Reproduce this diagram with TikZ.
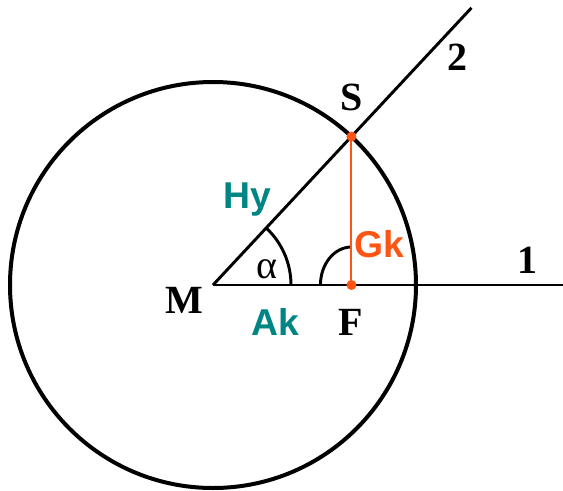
\documentclass[tikz,border=0pt]{standalone}
\usepackage{fontspec}
\setmainfont{Liberation Serif}
\setsansfont{Liberation Sans}
\usetikzlibrary{calc}
\definecolor{legteal}{RGB}{0,133,133}
\definecolor{legorange}{RGB}{255,85,20}

\begin{document}
\begin{tikzpicture}[x=0.75pt, y=0.75pt,
    rim/.style={line width=3pt, black},
    ray/.style={line width=2.2pt, black},
    anglearc/.style={line width=2.2pt, black},
    dot/.style={circle, fill=legorange, inner sep=0pt, minimum size=7.5pt},
    ptlbl/.style={font=\bfseries\fontsize{30}{30}\selectfont, inner sep=0pt, anchor=base},
    sidelbl/.style={font=\sffamily\bfseries\fontsize{28}{28}\selectfont, inner sep=0pt, anchor=base}
]
    \useasboundingbox (-213,-205) rectangle (350,285);

    \coordinate (M) at (0,0);
    \coordinate (S) at (47:203);
    \coordinate (F) at (S |- M);
    \coordinate (end1) at (350,0);
    \coordinate (end2) at (47:379);

    \draw[rim] (M) circle (152.25pt);
    \draw[ray] (M) -- (end1);
    \draw[ray] (M) -- (end2);
    \draw[anglearc] ($(M)+(58.5pt,0)$) arc[start angle=0, end angle=47, radius=58.5pt];
    \draw[anglearc] ($(F)+(-23.25pt,0)$) arc[start angle=180, end angle=90, x radius=23.25pt, y radius=28.5pt];
    \draw[draw=legorange, line width=1.5pt] (S) -- (F);
    \node[dot] (dotS) at (S) {};
    \node[dot] (dotF) at (F) {};

    \node[ptlbl] (lblM) at (-29,-28) {M};
    \node[ptlbl] (lblS) at (139,175) {S};
    \node[ptlbl] (lblF) at (138,-50) {F};
    \node[ptlbl] (lbl1) at (314,12) {1};
    \node[ptlbl] (lbl2) at (244,215) {2};
    \node[sidelbl, legteal] (hy) at (34,77) {Hy};
    \node[sidelbl, legteal] (ak) at (62,-50) {Ak};
    \node[sidelbl, legorange] (gk) at (166,28) {Gk};
    \node[font=\fontsize{30}{30}\selectfont, inner sep=0pt, anchor=base] (alpha) at (54,7) {α};
\end{tikzpicture}
\end{document}
